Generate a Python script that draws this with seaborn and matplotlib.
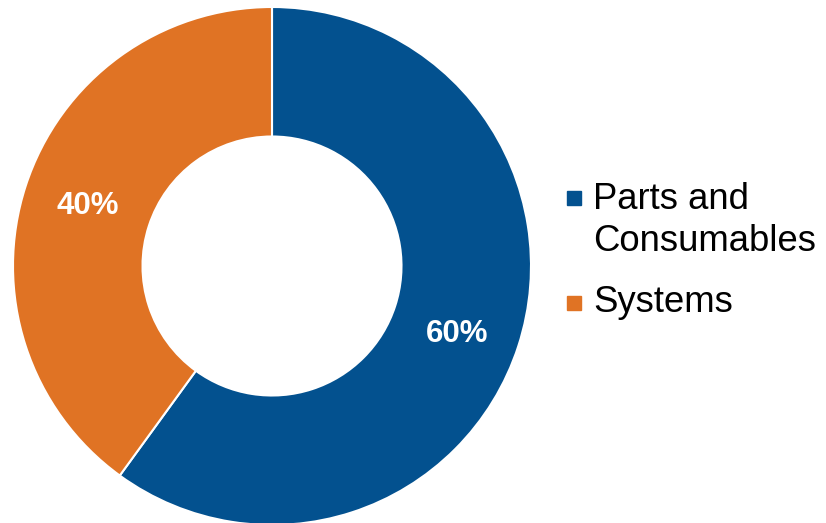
"""Revenue split donut: parts & consumables vs systems."""
import matplotlib.pyplot as plt
from matplotlib.patches import Rectangle
import seaborn as sns

categories = ["Parts and\nConsumables", "Systems"]
shares = [60, 40]
colors = ["#03518F", "#E07324"]

sns.set_theme(style="white")
plt.rcParams["font.family"] = ["Liberation Sans", "DejaVu Sans"]

W, H = 826, 523
fig = plt.figure(figsize=(W / 100, H / 100), dpi=100)
fig.patch.set_facecolor("white")

# donut: centre ~ (272, 266) px, outer radius ~259 px
cx, cy, r = 272, H - 266, 259
ax = fig.add_axes([(cx - r) / W, (cy - r) / H, 2 * r / W, 2 * r / H])
wedges, _, autotexts = ax.pie(
    shares, colors=sns.color_palette(colors), startangle=90, counterclock=False,
    autopct="%d%%", pctdistance=0.75, radius=1.0,
    wedgeprops=dict(width=0.5, edgecolor="white", linewidth=1.5),
    textprops=dict(color="white", fontsize=22.5, fontweight="bold"),
)
# the big slice's label sits a touch lower in the original
x0, y0 = autotexts[0].get_position()
autotexts[0].set_position((x0, y0 - 0.03))
ax.set_xlim(-1, 1)
ax.set_ylim(-1, 1)
ax.set_aspect("equal")
ax.axis("off")

# legend drawn by hand so the swatch sits on the first text line
tops = [191, 296]
bases = [209, 312]
line_gap = 42
for lab, col, top, base in zip(categories, colors, tops, bases):
    fig.patches.append(Rectangle((567 / W, 1 - (top + 14) / H), 14 / W, 14 / H,
                                 transform=fig.transFigure, color=col))
    for i, line in enumerate(lab.split("\n")):
        fig.text(593 / W, 1 - (base + i * line_gap) / H, line, fontsize=26.3,
                 color="black", va="baseline", ha="left")

fig.savefig("out.png", dpi=100)
